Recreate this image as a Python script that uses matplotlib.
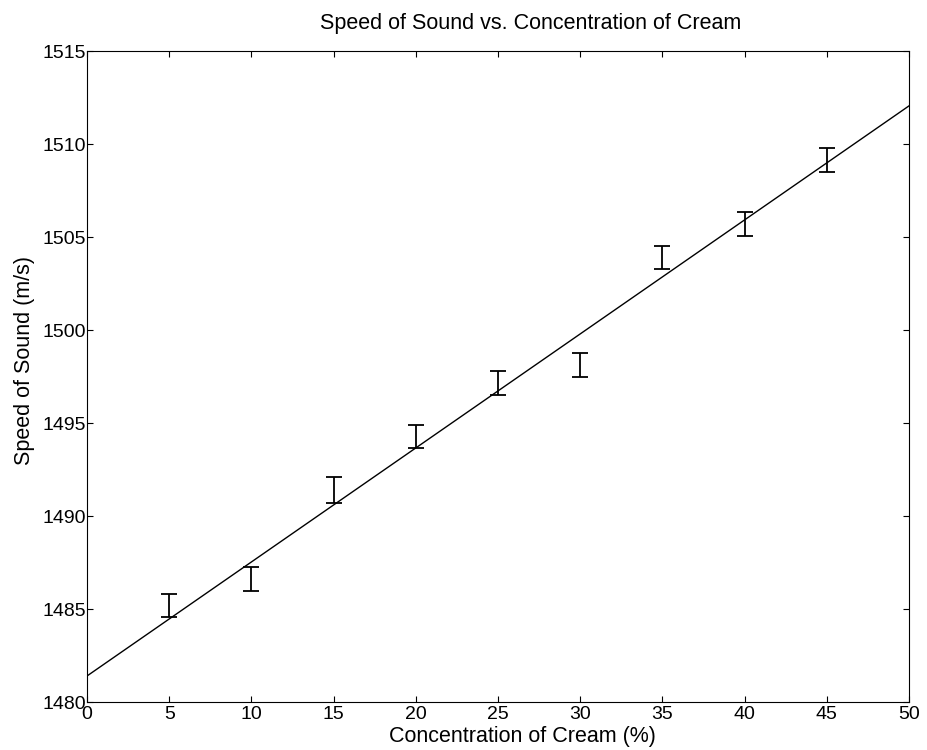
import matplotlib
matplotlib.use("Agg")
import matplotlib.pyplot as plt

plt.rcParams['font.family'] = ['Liberation Sans', 'DejaVu Sans']

# Data
concentration = [5, 10, 15, 20, 25, 30, 35, 40, 45]
speed = [1485.18, 1486.60, 1491.40, 1494.28, 1497.16, 1498.10, 1503.90, 1505.69, 1509.12]
speed_err = [0.63, 0.65, 0.68, 0.60, 0.64, 0.65, 0.62, 0.65, 0.65]

fit_x = [0, 50]
fit_y = [1481.40, 1512.05]

x_ticks = [0, 5, 10, 15, 20, 25, 30, 35, 40, 45, 50]
y_ticks = [1480, 1485, 1490, 1495, 1500, 1505, 1510, 1515]

fig = plt.figure(figsize=(9.27, 7.5), dpi=100)
ax = fig.add_axes([0.0939, 0.064, 0.8867, 0.868])

ax.plot(fit_x, fit_y, color='black', linewidth=1.0)
ax.errorbar(concentration, speed, yerr=speed_err, fmt='none', ecolor='black',
            elinewidth=1.3, capsize=5.8, capthick=1.3)

ax.set_xlim(0, 50)
ax.set_ylim(1480, 1515)
ax.set_xticks(x_ticks)
ax.set_yticks(y_ticks)
ax.tick_params(direction='in', length=4, width=0.8, top=True, right=True,
               labelsize=14)
ax.tick_params(axis='y', pad=1)
ax.tick_params(axis='x', pad=3)
for s in ax.spines.values():
    s.set_linewidth(0.8)

ax.set_title('Speed of Sound vs. Concentration of Cream', fontsize=15.5,
             x=0.54, pad=16)
ax.set_xlabel('Concentration of Cream (%)', fontsize=15.5, labelpad=2)
ax.xaxis.set_label_coords(0.53, -0.037)
ax.set_ylabel('Speed of Sound (m/s)', fontsize=15.5)
ax.yaxis.set_label_coords(-0.063, 0.525)

fig.savefig('out.png', dpi=100)
